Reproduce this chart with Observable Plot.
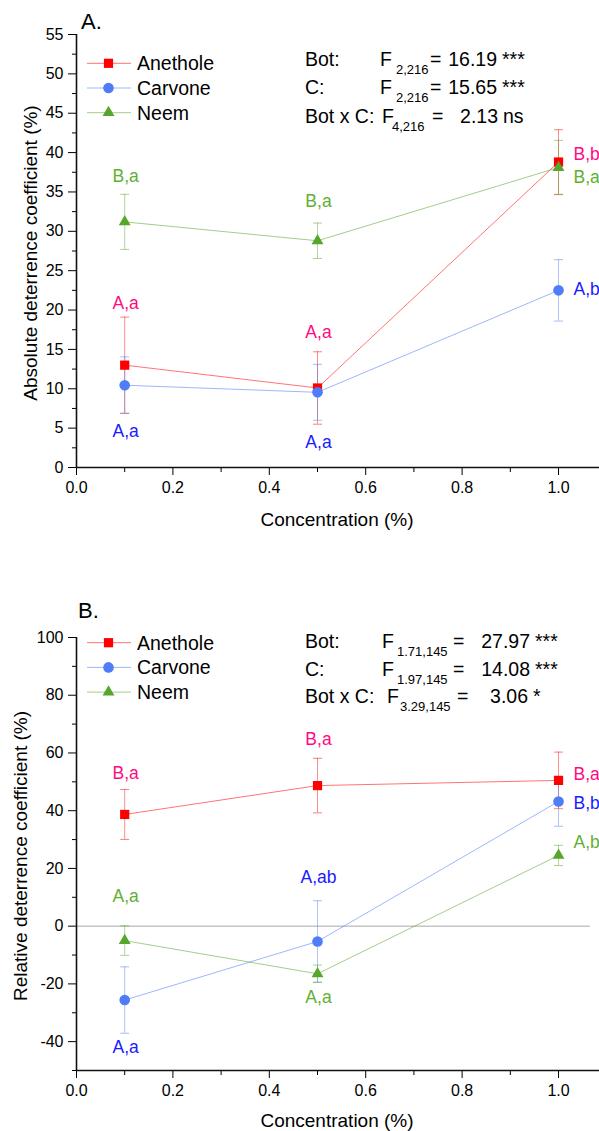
<!DOCTYPE html>
<html><head><meta charset="utf-8">
<script src="https://cdn.jsdelivr.net/npm/d3@7"></script>
<script src="https://cdn.jsdelivr.net/npm/@observablehq/plot@0.6"></script>
<style>body{margin:0;background:#fff;} svg{display:block;}</style>
</head><body><div id="a"></div><div id="b"></div>
<script>
const FONT = "'Liberation Sans', Arial, Helvetica, sans-serif";

// ---------- shared ----------
const concentration = [0.1, 0.5, 1.0];
const seriesNames = ["Anethole", "Carvone", "Neem"];
const markerColors = ["#ff0000", "#4f7cf7", "#55a62a"];
const letterColors = ["#ff0a82", "#1a1aff", "#62b032"];
const symbolNames = ["square", "circle", "triangle"];
const symbolR = [5.2, 5.3, 4.4];
const xTicks = [0, 0.2, 0.4, 0.6, 0.8, 1.0];
const xMinorTicks = [0.1, 0.3, 0.5, 0.7, 0.9];

// ---------- panel A: absolute deterrence coefficient ----------
const absAnethole = [13.0, 10.1, 38.8];
const absAnetholeSE = [6.1, 4.6, 4.1];
const absCarvone = [10.45, 9.55, 22.5];
const absCarvoneSE = [3.6, 3.55, 3.9];
const absNeem = [31.2, 28.8, 38.1];
const absNeemSE = [3.5, 2.25, 3.45];
const absAnetholeLetters = ["A,a", "A,a", "B,b"];
const absCarvoneLetters = ["A,a", "A,a", "A,b"];
const absNeemLetters = ["B,a", "B,a", "B,a"];
const absAnetholeLetterY = [20.9, 17.2, 39.8];
const absCarvoneLetterY = [4.6, 3.2, 22.6];
const absNeemLetterY = [37.0, 33.8, 36.8];
const absYTicks = [0, 5, 10, 15, 20, 25, 30, 35, 40, 45, 50, 55];
const absYMinor = [2.5, 7.5, 12.5, 17.5, 22.5, 27.5, 32.5, 37.5, 42.5, 47.5, 52.5];
const absStats = [
  ["Bot:", "2,216", "16.19", "***"],
  ["C:", "2,216", "15.65", "***"],
  ["Bot x C:", "4,216", "2.13", "ns"]
];

// ---------- panel B: relative deterrence coefficient ----------
const relAnethole = [38.7, 48.7, 50.5];
const relAnetholeSE = [8.65, 9.45, 9.8];
const relCarvone = [-25.6, -5.3, 43.2];
const relCarvoneSE = [11.5, 14.1, 8.6];
const relNeem = [-5.0, -16.5, 24.5];
const relNeemSE = [5.1, 3.0, 3.5];
const relAnetholeLetters = ["B,a", "B,a", "B,a"];
const relCarvoneLetters = ["A,a", "A,ab", "B,b"];
const relNeemLetters = ["A,a", "A,a", "A,b"];
const relAnetholeLetterY = [53.0, 64.6, 52.5];
const relCarvoneLetterY = [-41.9, 17.0, 42.5];
const relNeemLetterY = [10.3, -24.8, 29.1];
const relYTicks = [-40, -20, 0, 20, 40, 60, 80, 100];
const relYMinor = [-50, -30, -10, 10, 30, 50, 70, 90];
const relStats = [
  ["Bot:", "1.71,145", "27.97", "***"],
  ["C:", "1.97,145", "14.08", "***"],
  ["Bot x C:", "3.29,145", "3.06", "*"]
];

const capSymbol = {draw(ctx) { ctx.moveTo(-4.5, 0); ctx.lineTo(4.5, 0); }};

function buildRows(means, ses, letters, letterY) {
  const rows = [];
  means.forEach((m, i) => m.forEach((v, j) => rows.push({
    series: seriesNames[i], si: i, x: concentration[j], y: v,
    lo: v - ses[i][j], hi: v + ses[i][j], letter: letters[i][j], ly: letterY[i][j]
  })));
  return rows;
}

function panel(cfg) {
  const rows = buildRows(cfg.means, cfg.ses, cfg.letters, cfg.letterY);
  const [y0, y1] = cfg.yDomain;
  const xMax = 1.085;
  const marks = [
    Plot.axisY(cfg.yTicks, {tickSize: 8, tickPadding: 5, tickFormat: d => `${d}`, label: null}),
    Plot.axisY(cfg.yMinor, {tickSize: 4, tickFormat: () => "", label: null}),
    Plot.axisX(xTicks, {tickSize: 8, tickPadding: 6, tickFormat: d => d.toFixed(1), label: null}),
    Plot.axisX(xMinorTicks, {tickSize: 5, tickFormat: () => "", label: null})
  ];
  if (cfg.zeroLine) marks.push(Plot.ruleY([0], {x1: 0, x2: 1.066, stroke: "#a8a8a8", strokeWidth: 1}));
  marks.push(
    Plot.ruleX([0], {y1: y0, y2: y1, stroke: "#111", strokeWidth: 1.6}),
    Plot.ruleY([y0], {x1: 0, x2: xMax, stroke: "#111", strokeWidth: 1.6})
  );
  seriesNames.forEach((s, i) => {
    const d = rows.filter(r => r.si === i);
    marks.push(Plot.line(d, {x: "x", y: "y", stroke: markerColors[i], strokeOpacity: 0.55, strokeWidth: 1}));
  });
  seriesNames.forEach((s, i) => {
    const d = rows.filter(r => r.si === i);
    marks.push(
      Plot.ruleX(d, {x: "x", y1: "lo", y2: "hi", stroke: markerColors[i], strokeOpacity: 0.45, strokeWidth: 1}),
      Plot.dot(d, {x: "x", y: "lo", symbol: capSymbol, r: 4, fill: "none", stroke: markerColors[i], strokeOpacity: 0.5, strokeWidth: 1}),
      Plot.dot(d, {x: "x", y: "hi", symbol: capSymbol, r: 4, fill: "none", stroke: markerColors[i], strokeOpacity: 0.5, strokeWidth: 1})
    );
  });
  seriesNames.forEach((s, i) => {
    const d = rows.filter(r => r.si === i);
    marks.push(Plot.dot(d, {x: "x", y: "y", symbol: symbolNames[i], r: symbolR[i], fill: markerColors[i], stroke: "none"}));
  });
  seriesNames.forEach((s, i) => {
    const d = rows.filter(r => r.si === i);
    marks.push(
      Plot.text(d.filter(r => r.x < 1), {x: "x", y: "ly", text: "letter", fill: letterColors[i], fontSize: 17.5, textAnchor: "middle", dx: 1}),
      Plot.text(d.filter(r => r.x >= 1), {x: "x", y: "ly", text: "letter", fill: letterColors[i], fontSize: 17.5, textAnchor: "start", dx: 15})
    );
  });

  const svg = Plot.plot({
    width: 599, height: cfg.height,
    marginLeft: 76, marginRight: 0, marginTop: cfg.marginTop, marginBottom: cfg.marginBottom,
    x: {domain: [0, xMax]},
    y: {domain: [y0, y1]},
    style: {fontFamily: FONT, fontSize: "16px", color: "#000", background: "#fff", overflow: "hidden"},
    marks
  });

  const g = d3.select(svg).append("g").attr("font-family", FONT).attr("fill", "#000").attr("text-anchor", "start");
  // panel letter
  g.append("text").attr("x", cfg.letterPos[0]).attr("y", cfg.letterPos[1]).attr("font-size", 22).text(cfg.panelLetter);
  // axis titles
  g.append("text").attr("transform", `translate(${cfg.yTitlePos[0]},${cfg.yTitlePos[1]}) rotate(-90)`)
    .attr("text-anchor", "middle").attr("font-size", 19).text(cfg.yTitle);
  g.append("text").attr("x", 337).attr("y", cfg.xTitleY).attr("text-anchor", "middle").attr("font-size", 19).text("Concentration (%)");
  // legend
  seriesNames.forEach((s, i) => {
    const yy = cfg.legendY + i * 24.7;
    g.append("line").attr("x1", 87).attr("x2", 131).attr("y1", yy).attr("y2", yy)
      .attr("stroke", markerColors[i]).attr("stroke-opacity", 0.55).attr("stroke-width", 1);
    const sym = {square: d3.symbolSquare, circle: d3.symbolCircle, triangle: d3.symbolTriangle}[symbolNames[i]];
    g.append("path").attr("transform", `translate(108.5,${yy})`)
      .attr("d", d3.symbol(sym, Math.PI * symbolR[i] * symbolR[i])()).attr("fill", markerColors[i]);
    g.append("text").attr("x", 137).attr("y", yy + 6.8).attr("font-size", 19.5).text(s);
  });
  // statistics
  cfg.stats.forEach((row, i) => {
    const b = cfg.statsY + i * cfg.statsStep;
    const p = cfg.statsX[i];
    g.append("text").attr("x", 305).attr("y", b).attr("font-size", 19.5).text(row[0]);
    g.append("text").attr("x", p[0]).attr("y", b).attr("font-size", 19.5).text("F");
    g.append("text").attr("x", p[1]).attr("y", b + 8).attr("font-size", 13).text(row[1]);
    g.append("text").attr("x", p[2]).attr("y", b).attr("font-size", 19.5).text("=");
    g.append("text").attr("x", p[3]).attr("y", b).attr("font-size", 19.5).attr("text-anchor", "end").text(row[2]);
    g.append("text").attr("x", p[3] + 5).attr("y", b).attr("font-size", 19.5).text(row[3]);
  });
  document.getElementById(cfg.id).appendChild(svg);
}

panel({
  id: "a", height: 565, marginTop: 34, marginBottom: 98,
  yDomain: [0, 55], yTicks: absYTicks, yMinor: absYMinor,
  means: [absAnethole, absCarvone, absNeem], ses: [absAnetholeSE, absCarvoneSE, absNeemSE],
  letters: [absAnetholeLetters, absCarvoneLetters, absNeemLetters],
  letterY: [absAnetholeLetterY, absCarvoneLetterY, absNeemLetterY],
  zeroLine: false, panelLetter: "A.", letterPos: [81, 29],
  yTitle: "Absolute deterrence coefficient (%)", yTitlePos: [37, 253], xTitleY: 526,
  legendY: 63.3, stats: absStats, statsY: 66, statsStep: 28.3,
  statsX: [[380, 396, 430, 497], [380, 396, 430, 497], [382, 392, 432, 498]]
});

panel({
  id: "b", height: 566, marginTop: 72, marginBottom: 61,
  yDomain: [-50, 100], yTicks: relYTicks, yMinor: relYMinor,
  means: [relAnethole, relCarvone, relNeem], ses: [relAnetholeSE, relCarvoneSE, relNeemSE],
  letters: [relAnetholeLetters, relCarvoneLetters, relNeemLetters],
  letterY: [relAnetholeLetterY, relCarvoneLetterY, relNeemLetterY],
  zeroLine: true, panelLetter: "B.", letterPos: [78, 53],
  yTitle: "Relative deterrence coefficient (%)", yTitlePos: [26.7, 291], xTitleY: 562,
  legendY: 77.7, stats: relStats, statsY: 83, statsStep: 27.6,
  statsX: [[382, 397, 453, 530], [382, 397, 453, 530], [387, 400, 457, 528]]
});
</script>
</body></html>
